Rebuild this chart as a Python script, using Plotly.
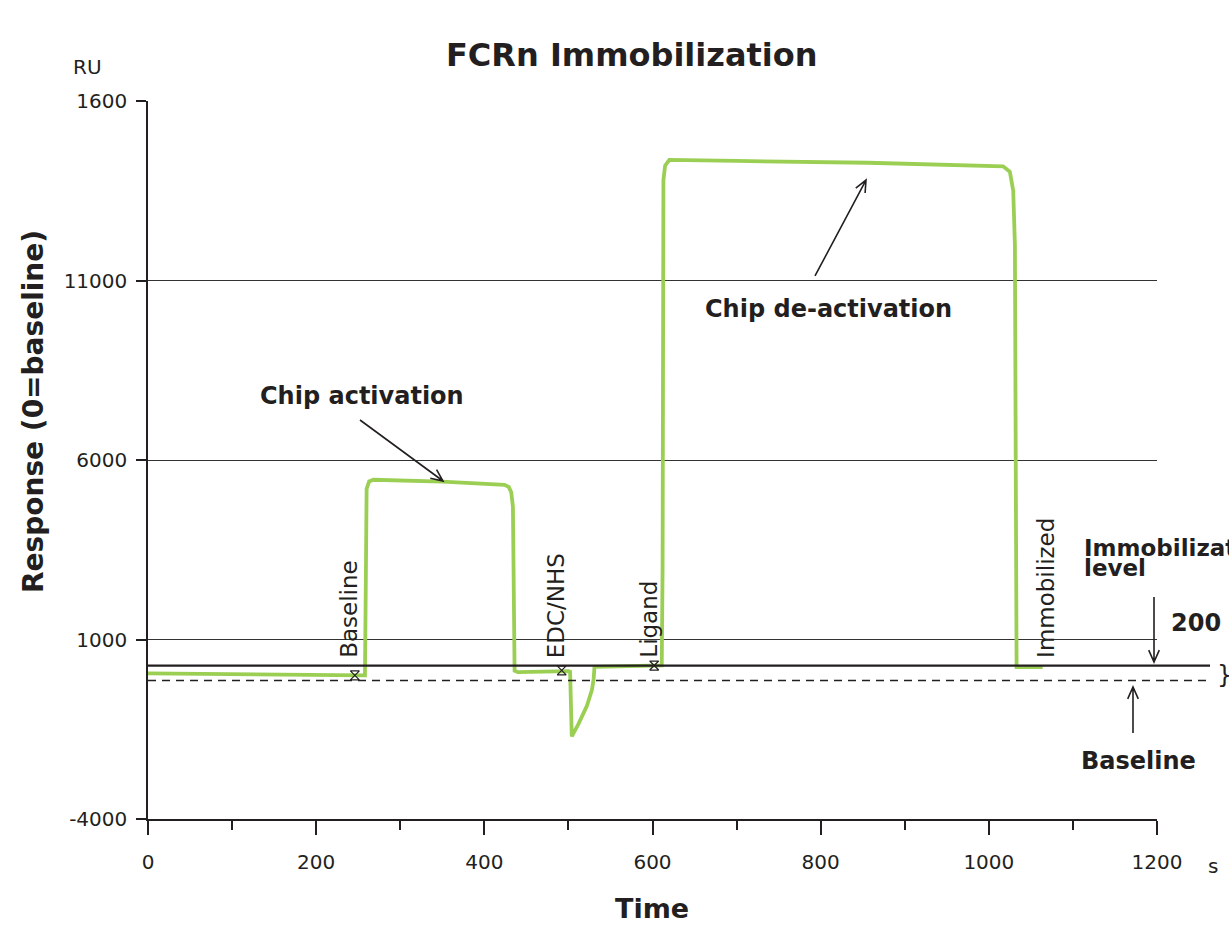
import math
import plotly.graph_objects as go

# ---------------- data ----------------
time_s = [0, 130, 255, 258, 259, 260, 263, 268, 350, 424, 429, 432, 434, 435, 436, 440, 470,
          500, 502, 504, 512, 522, 528, 530, 531, 560, 600, 611, 612, 613, 615, 620, 700, 856,
          1017, 1025, 1029, 1031, 1032, 1033, 1064]
response_ru = [55, 30, 0, 0, 2500, 5200, 5400, 5450, 5400, 5310, 5250, 5100, 4700, 3000, 130, 90, 110,
               120, 100, -1700, -1350, -850, -400, -100, 240, 250, 270, 280, 3000, 13800, 14200, 14360, 14330, 14280,
               14180, 14030, 13500, 12000, 6000, 230, 230]

event_labels = ["Baseline", "EDC/NHS", "Ligand"]
event_times = [246, 492, 602]
event_values = [0, 140, 275]
immobilized_label_time = 1075

immobilized_level = 275
baseline_level = -140

y_tickvals = [-4000, 1000, 6000, 11000, 16000]
y_ticktext = ["-4000", "1000", "6000", "11000", "1600"]
x_tickvals = [0, 200, 400, 600, 800, 1000, 1200]

# ---------------- layout geometry ----------------
W, H = 1229, 932
L, R, T, B = 148, 1157, 101, 819
X_RANGE = [0, 1200]
Y_RANGE = [-4000, 16000]
TXT = "#231f20"
GREEN = "#9BCF53"
FONT = "DejaVu Sans"


def px(x, y):
    return (x - L) / (R - L), (B - y) / (B - T)


def data_to_px(t, v):
    return (L + (t - X_RANGE[0]) / (X_RANGE[1] - X_RANGE[0]) * (R - L),
            B - (v - Y_RANGE[0]) / (Y_RANGE[1] - Y_RANGE[0]) * (B - T))


def arrow_path(x0, y0, x1, y1, size=13, ang=24):
    d = math.atan2(y1 - y0, x1 - x0)
    pts = []
    for s in (1, -1):
        a = d + math.pi + s * math.radians(ang)
        pts.append((x1 + size * math.cos(a), y1 + size * math.sin(a)))

    def P(x, y):
        u, v = px(x, y)
        return f"{u:.5f},{v:.5f}"
    path = (f"M{P(x0, y0)} L{P(x1, y1)} M{P(*pts[0])} L{P(x1, y1)} L{P(*pts[1])}")
    return dict(type="path", xref="paper", yref="paper", path=path,
                line=dict(color=TXT, width=1.6))


fig = go.Figure()
fig.add_trace(go.Scatter(x=time_s, y=response_ru, mode="lines",
                         line=dict(color=GREEN, width=3.8), cliponaxis=False,
                         hoverinfo="skip", showlegend=False))
fig.add_trace(go.Scatter(x=event_times, y=event_values, mode="markers",
                         marker=dict(symbol="hourglass-open", size=9, color=TXT,
                                     line=dict(color=TXT, width=1.2)),
                         cliponaxis=False, showlegend=False, hoverinfo="skip"))

shapes = []
# reference levels (extend beyond plot area)
for lvl, dash, wdt in [(immobilized_level, "solid", 2.2), (baseline_level, "8px,6px", 1.6)]:
    _, yp = data_to_px(0, lvl)
    u0, v0 = px(L, yp)
    u1, _ = px(1210, yp)
    shapes.append(dict(type="line", xref="paper", yref="paper", x0=u0, x1=u1, y0=v0, y1=v0,
                       line=dict(color=TXT, width=wdt, dash=dash)))

shapes.append(arrow_path(360, 420, 443, 481))
shapes.append(arrow_path(815, 276, 866, 180))
shapes.append(arrow_path(1154, 597, 1154, 662))
shapes.append(arrow_path(1133, 733, 1133, 687))

annotations = []


def text(x, y, s, size=20, bold=False, xanchor="center", yanchor="middle", angle=0):
    u, v = px(x, y)
    annotations.append(dict(x=u, y=v, xref="paper", yref="paper", text=(f"<b>{s}</b>" if bold else s),
                            showarrow=False, xanchor=xanchor, yanchor=yanchor, textangle=angle,
                            font=dict(family=FONT, size=size, color=TXT), borderpad=0))


text(632, 55, "FCRn Immobilization", size=32, bold=True)
text(87, 67, "RU", size=20)
text(33, 412, "Response (0=baseline)", size=28, bold=True, angle=-90)
text(652, 909, "Time", size=27, bold=True)
text(1213, 866, "s", size=20)
text(362, 396, "Chip activation", size=24, bold=True)
text(828, 309, "Chip de-activation", size=24, bold=True)
text(1083, 548, "Immobilization", size=23, bold=True, xanchor="left")
text(1083, 568, "level", size=23, bold=True, xanchor="left")
text(1170, 623, "200 RU", size=24, bold=True, xanchor="left")
text(1138, 761, "Baseline", size=24, bold=True)
text(1216, 675, "}", size=24, xanchor="left")

for lab, t in zip(event_labels + ["Immobilized"], event_times + [immobilized_label_time]):
    xp, _ = data_to_px(t, 0)
    text(xp - 6, 659, lab, size=23, yanchor="bottom", angle=-90)

fig.update_layout(
    width=W, height=H,
    margin=dict(l=L, r=W - R, t=T, b=H - B),
    paper_bgcolor="white", plot_bgcolor="white",
    font=dict(family=FONT, size=19, color=TXT),
    showlegend=False,
    shapes=shapes, annotations=annotations,
    xaxis=dict(range=X_RANGE, tickvals=x_tickvals, ticks="outside", ticklen=14, tickwidth=1.5,
               tickcolor=TXT, showline=True, linecolor=TXT, linewidth=1.5, showgrid=False,
               zeroline=False, tickfont=dict(size=20, color=TXT), ticklabelstandoff=10,
               minor=dict(dtick=100, ticks="outside", ticklen=9, tickwidth=1.5, tickcolor=TXT,
                          showgrid=False)),
    yaxis=dict(range=Y_RANGE, tickvals=y_tickvals, ticktext=y_ticktext, ticks="outside",
               ticklen=10, tickwidth=1.5, tickcolor=TXT, showline=True, linecolor=TXT,
               linewidth=1.5, showgrid=True, gridcolor="#333333", gridwidth=1, zeroline=False,
               tickfont=dict(size=20, color=TXT), ticklabelstandoff=5),
)

fig.write_html("out.html")
